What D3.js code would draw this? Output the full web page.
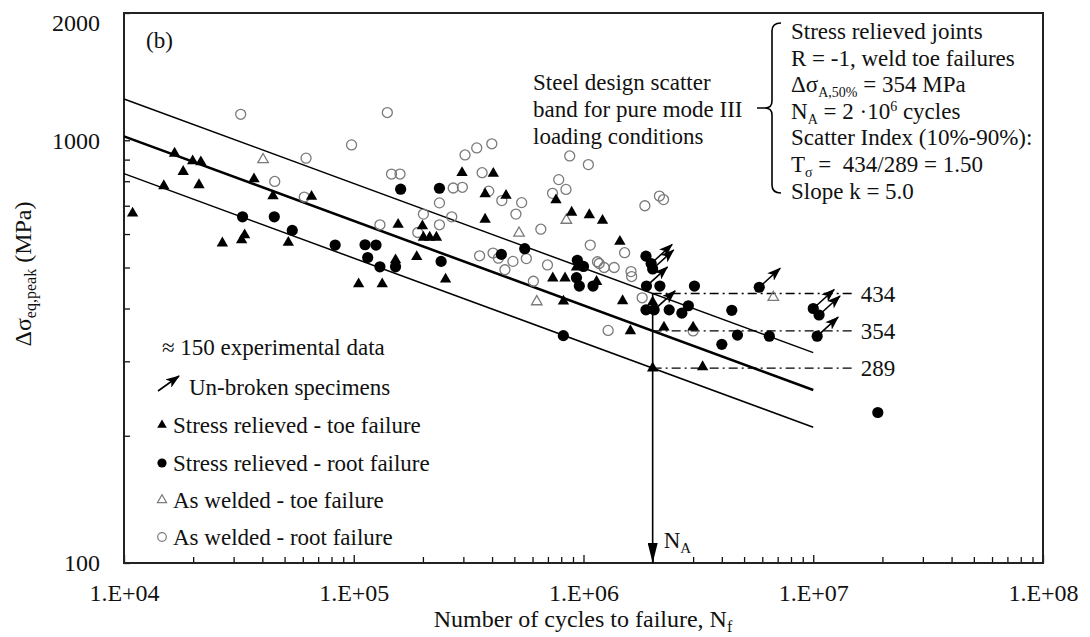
<!DOCTYPE html>
<html>
<head>
<meta charset="utf-8">
<script src="https://cdn.jsdelivr.net/npm/d3@7"></script>
<style>
  body { margin: 0; background: #fff; }
  svg text { font-family: "Liberation Serif", "Times New Roman", serif; fill: #111; }
</style>
</head>
<body>
<svg id="chart" width="1090" height="637"></svg>
<script>
// ---- axis settings ----
const cyclesDomain = [1e4, 1e8];
const stressDomain = [100, 2000];
const xMajorTicks = [1e4, 1e5, 1e6, 1e7, 1e8];
const xTickLabels = ["1.E+04", "1.E+05", "1.E+06", "1.E+07", "1.E+08"];
const yMajorTicks = [100, 1000, 2000];
const yTickLabels = ["100", "1000", "2000"];

// ---- experimental data: [cycles to failure N_f, Δσ_eq,peak (MPa)] ----
// stress relieved joints, weld toe failures
const srToe = [
  [10900, 672], [16600, 931], [18100, 843], [19900, 893], [21600, 888], [14900, 780],
  [21200, 784], [36800, 810], [44500, 738], [65500, 736], [26800, 571], [32500, 581],
  [33500, 597], [51900, 573], [105000, 457], [133000, 457], [156000, 632], [152000, 521],
  [296000, 838], [405000, 834], [373000, 746], [460000, 740], [759000, 722], [888000, 675],
  [1.06e6, 666], [1.21e6, 646], [373000, 650], [199000, 627], [201000, 589], [214000, 589],
  [229000, 589], [188000, 530], [251000, 469], [735000, 472], [831000, 472], [932000, 501],
  [1.14e6, 463], [1.44e6, 576], [818000, 416], [1.48e6, 417], [1.60e6, 354], [2.0e6, 414],
  [2.24e6, 361], [3.0e6, 361], [2.0e6, 289], [3.3e6, 291]
];
// stress relieved joints, weld root failures
const srRoot = [
  [32800, 659], [45100, 659], [54000, 612], [83000, 565], [112000, 566], [125000, 565],
  [115000, 528], [130000, 502], [152000, 502], [160000, 766], [236000, 770], [240000, 517],
  [439000, 537], [555000, 554], [940000, 520], [1.0e6, 503], [932000, 473], [959000, 452],
  [1.10e6, 452], [817000, 345], [1.87e6, 532], [1.97e6, 511], [2.0e6, 496], [1.88e6, 452],
  [2.15e6, 452], [3.04e6, 452], [1.87e6, 397], [2.03e6, 397], [2.36e6, 397], [2.68e6, 390],
  [2.86e6, 406], [4.42e6, 396], [4.68e6, 346], [4.0e6, 329], [5.82e6, 449], [6.44e6, 344],
  [1.0e7, 400], [1.06e7, 386], [1.04e7, 344], [1.91e7, 227]
];
// as welded joints, weld toe failures
const awToe = [
  [40300, 900], [524000, 603], [842000, 647], [626000, 415], [6.7e6, 425]
];
// as welded joints, weld root failures
const awRoot = [
  [32200, 1152], [140000, 1163], [97800, 975], [62000, 907], [45300, 799], [60900, 734],
  [146000, 832], [159000, 832], [130000, 631], [305000, 923], [343000, 959], [399000, 981],
  [871000, 918], [1.05e6, 876], [362000, 838], [271000, 771], [297000, 774], [387000, 758],
  [441000, 720], [538000, 712], [236000, 711], [780000, 807], [839000, 765], [733000, 749],
  [1.85e6, 700], [2.14e6, 738], [2.23e6, 724], [201000, 669], [267000, 659], [508000, 669],
  [236000, 631], [190000, 605], [652000, 616], [1.07e6, 565], [1.51e6, 542], [353000, 533],
  [404000, 541], [426000, 526], [493000, 517], [564000, 525], [455000, 494], [697000, 507],
  [1.15e6, 516], [1.17e6, 511], [1.23e6, 500], [1.36e6, 500], [1.61e6, 489], [1.62e6, 476],
  [605000, 464], [1.80e6, 424], [1.28e6, 355], [3.0e6, 354]
];
// un-broken (run-out) specimens
const runouts = [
  [1.97e6, 511], [2.0e6, 496], [1.88e6, 452], [2.03e6, 397], [5.82e6, 449],
  [1.0e7, 400], [1.06e7, 386], [1.04e7, 344]
];

// ---- scatter band (k = 5, N_A = 2e6) ----
const bandLevels = [434, 354, 289];      // 90%, 50%, 10% survival at N_A
const bandLabels = ["434", "354", "289"];
const bandCycles = [1e4, 1e7];
const refLineCycles = [2e6, 1.5e7];
const cyclesA = 2e6;
const slopeK = 5;

// ---- layout ----
const svg = d3.select("#chart");
const plotLeft = 124, plotRight = 1043, plotTop = 13, plotBottom = 563;
const x = d3.scaleLog().domain(cyclesDomain).range([plotLeft, plotRight]);
const y = d3.scaleLog().domain(stressDomain).range([plotBottom, plotTop]);

const defs = svg.append("defs");
defs.append("marker")
  .attr("id", "head").attr("viewBox", "0 0 14 10").attr("refX", 13).attr("refY", 5)
  .attr("markerWidth", 14).attr("markerHeight", 10).attr("markerUnits", "userSpaceOnUse")
  .attr("orient", "auto")
  .append("path").attr("d", "M0,0 L14,5 L0,10 L3.5,5 Z").attr("fill", "#000");
defs.append("marker")
  .attr("id", "headNA").attr("viewBox", "0 0 20 10").attr("refX", 20).attr("refY", 5)
  .attr("markerWidth", 20).attr("markerHeight", 10).attr("markerUnits", "userSpaceOnUse")
  .attr("orient", "auto")
  .append("path").attr("d", "M0,0 L20,5 L0,10 Z").attr("fill", "#000");

// ---- axes ----
const xTicksAll = [];
for (let e = 4; e < 8; e++) for (let m = 1; m < 10; m++) xTicksAll.push(m * Math.pow(10, e));
xTicksAll.push(1e8);
const xLabelOf = new Map(xMajorTicks.map((v, i) => [v, xTickLabels[i]]));
const gx = svg.append("g").attr("transform", `translate(0,${plotBottom})`)
  .call(d3.axisBottom(x).tickValues(xTicksAll).tickSizeInner(-6).tickSizeOuter(0)
    .tickFormat(d => xLabelOf.get(d) || ""));
gx.select(".domain").remove();
gx.selectAll(".tick line").attr("stroke", "#111").attr("stroke-width", 1.3)
  .attr("y2", d => xLabelOf.has(d) ? -8 : -6);
gx.selectAll(".tick text").attr("y", 38).attr("dy", 0)
  .attr("font-size", 24).attr("font-family", "Liberation Serif, serif").attr("fill", "#111");

const yTicksAll = d3.range(100, 1000, 100).concat([1000, 2000]);
const yLabelOf = new Map(yMajorTicks.map((v, i) => [v, yTickLabels[i]]));
const gy = svg.append("g").attr("transform", `translate(${plotLeft},0)`)
  .call(d3.axisLeft(y).tickValues(yTicksAll).tickSizeInner(-6).tickSizeOuter(0)
    .tickFormat(d => yLabelOf.get(d) || ""));
gy.select(".domain").remove();
gy.selectAll(".tick line").attr("stroke", "#111").attr("stroke-width", 1.3);
gy.selectAll(".tick text").attr("x", -24).attr("dy", d => d === 2000 ? "0.72em" : "0.33em")
  .attr("font-size", 24).attr("font-family", "Liberation Serif, serif").attr("fill", "#111");

svg.append("rect").attr("x", plotLeft).attr("y", plotTop)
  .attr("width", plotRight - plotLeft).attr("height", plotBottom - plotTop)
  .attr("fill", "none").attr("stroke", "#222").attr("stroke-width", 2);

// ---- axis titles ----
const yt = svg.append("text").attr("transform", "translate(31,274) rotate(-90)")
  .attr("text-anchor", "middle").attr("font-size", 24);
yt.append("tspan").text("Δσ");
yt.append("tspan").attr("font-size", 16).attr("dy", 5).text("eq,peak");
yt.append("tspan").attr("dy", -5).text(" (MPa)");

const xt = svg.append("text").attr("x", 583).attr("y", 627)
  .attr("text-anchor", "middle").attr("font-size", 24);
xt.append("tspan").text("Number of cycles to failure, N");
xt.append("tspan").attr("font-size", 16).attr("dy", 5).text("f");

// ---- scatter band lines ----
const bandLine = d3.line().x(d => x(d[0])).y(d => y(d[1]));
bandLevels.forEach((lvl, i) => {
  const pts = bandCycles.map(n => [n, lvl * Math.pow(cyclesA / n, 1 / slopeK)]);
  svg.append("path").attr("d", bandLine(pts)).attr("fill", "none")
    .attr("stroke", "#000").attr("stroke-width", i === 1 ? 2.6 : 1.5);
});

// reference levels at N_A (dash-dot)
bandLevels.forEach((lvl, i) => {
  svg.append("line")
    .attr("x1", x(refLineCycles[0])).attr("x2", x(refLineCycles[1]))
    .attr("y1", y(lvl)).attr("y2", y(lvl))
    .attr("stroke", "#000").attr("stroke-width", 1.4)
    .attr("stroke-dasharray", "9,4,2,4");
  svg.append("text").attr("x", x(refLineCycles[1]) + 7).attr("y", y(lvl) + 8)
    .attr("font-size", 23).text(bandLabels[i]);
});

// N_A vertical arrow
svg.append("line")
  .attr("x1", x(cyclesA)).attr("x2", x(cyclesA))
  .attr("y1", y(bandLevels[0])).attr("y2", y(stressDomain[0]))
  .attr("stroke", "#000").attr("stroke-width", 1.6)
  .attr("marker-end", "url(#headNA)");
const na = svg.append("text").attr("x", x(cyclesA) + 11).attr("y", 548).attr("font-size", 23);
na.append("tspan").text("N");
na.append("tspan").attr("font-size", 15).attr("dy", 5).text("A");

// ---- data markers ----
const grey = "#7a7a7a";
svg.append("g").selectAll("circle").data(awRoot).join("circle")
  .attr("cx", d => x(d[0])).attr("cy", d => y(d[1])).attr("r", 5)
  .attr("fill", "none").attr("stroke", grey).attr("stroke-width", 1.3);
const triOpen = d3.symbol(d3.symbolTriangle, 48);
svg.append("g").selectAll("path").data(awToe).join("path")
  .attr("transform", d => `translate(${x(d[0])},${y(d[1])})`).attr("d", triOpen)
  .attr("fill", "none").attr("stroke", grey).attr("stroke-width", 1.3);
svg.append("g").selectAll("circle").data(srRoot).join("circle")
  .attr("cx", d => x(d[0])).attr("cy", d => y(d[1])).attr("r", 5.6)
  .attr("fill", "#000");
const triFill = d3.symbol(d3.symbolTriangle, 56);
svg.append("g").selectAll("path").data(srToe).join("path")
  .attr("transform", d => `translate(${x(d[0])},${y(d[1])})`).attr("d", triFill)
  .attr("fill", "#000");

// run-out arrows
const arrowDx = 21, arrowDy = -19;
svg.append("g").selectAll("line").data(runouts).join("line")
  .attr("x1", d => x(d[0])).attr("y1", d => y(d[1]))
  .attr("x2", d => x(d[0]) + arrowDx).attr("y2", d => y(d[1]) + arrowDy)
  .attr("stroke", "#000").attr("stroke-width", 1.6).attr("marker-end", "url(#head)");

// ---- panel label and annotations ----
svg.append("text").attr("x", 146).attr("y", 48).attr("font-size", 23).text("(b)");

const noteLines = ["Steel design scatter", "band for pure mode III", "loading conditions"];
svg.append("g").selectAll("text").data(noteLines).join("text")
  .attr("x", 533).attr("y", (d, i) => 90 + i * 27).attr("font-size", 23).text(d => d);

svg.append("path")
  .attr("d", "M781,23 Q772,23 772,31 L772,101 Q772,108 765,108 Q772,108 772,115 L772,185 Q772,193 781,193 M757,108 L765,108")
  .attr("fill", "none").attr("stroke", "#000").attr("stroke-width", 1.6);

const infoX = 791, infoY0 = 39, infoStep = 26.6;
const info = svg.append("g").attr("font-size", 23);
info.append("text").attr("x", infoX).attr("y", infoY0).text("Stress relieved joints");
info.append("text").attr("x", infoX).attr("y", infoY0 + infoStep).text("R = -1, weld toe failures");
const l3 = info.append("text").attr("x", infoX).attr("y", infoY0 + 2 * infoStep);
l3.append("tspan").text("Δσ");
l3.append("tspan").attr("font-size", 14).attr("dy", 5).text("A,50%");
l3.append("tspan").attr("dy", -5).text(" = 354 MPa");
const l4 = info.append("text").attr("x", infoX).attr("y", infoY0 + 3 * infoStep);
l4.append("tspan").text("N");
l4.append("tspan").attr("font-size", 14).attr("dy", 5).text("A");
l4.append("tspan").attr("dy", -5).text(" = 2 ·10");
l4.append("tspan").attr("font-size", 14).attr("dy", -8).text("6");
l4.append("tspan").attr("dy", 8).text(" cycles");
info.append("text").attr("x", infoX).attr("y", infoY0 + 4 * infoStep).text("Scatter Index (10%-90%):");
const l6 = info.append("text").attr("x", infoX).attr("y", infoY0 + 5 * infoStep);
l6.append("tspan").text("T");
l6.append("tspan").attr("font-size", 14).attr("dy", 5).text("σ");
l6.append("tspan").attr("dy", -5).text(" =\u00A0 434/289 = 1.50");
info.append("text").attr("x", infoX).attr("y", infoY0 + 6 * infoStep).text("Slope k = 5.0");

// ---- legend ----
const lg = svg.append("g").attr("font-size", 23);
lg.append("text").attr("x", 162).attr("y", 355).text("≈ 150 experimental data");
lg.append("line").attr("x1", 158).attr("y1", 391).attr("x2", 179).attr("y2", 376)
  .attr("stroke", "#000").attr("stroke-width", 1.6).attr("marker-end", "url(#head)");
lg.append("text").attr("x", 189).attr("y", 395).text("Un-broken specimens");
const legendRows = [
  { label: "Stress relieved - toe failure", type: "triFill", yy: 425 },
  { label: "Stress relieved - root failure", type: "dot", yy: 463 },
  { label: "As welded - toe failure", type: "triOpen", yy: 500 },
  { label: "As welded - root failure", type: "ring", yy: 537 }
];
legendRows.forEach(r => {
  if (r.type === "triFill") lg.append("path").attr("transform", `translate(162,${r.yy})`)
    .attr("d", d3.symbol(d3.symbolTriangle, 40)).attr("fill", "#000");
  if (r.type === "dot") lg.append("circle").attr("cx", 162).attr("cy", r.yy).attr("r", 4.6).attr("fill", "#000");
  if (r.type === "triOpen") lg.append("path").attr("transform", `translate(162,${r.yy})`)
    .attr("d", d3.symbol(d3.symbolTriangle, 36)).attr("fill", "none").attr("stroke", grey).attr("stroke-width", 1.2);
  if (r.type === "ring") lg.append("circle").attr("cx", 162).attr("cy", r.yy).attr("r", 4.3)
    .attr("fill", "none").attr("stroke", grey).attr("stroke-width", 1.2);
  lg.append("text").attr("x", 173).attr("y", r.yy + 7.5).text(r.label);
});
</script>
</body>
</html>
